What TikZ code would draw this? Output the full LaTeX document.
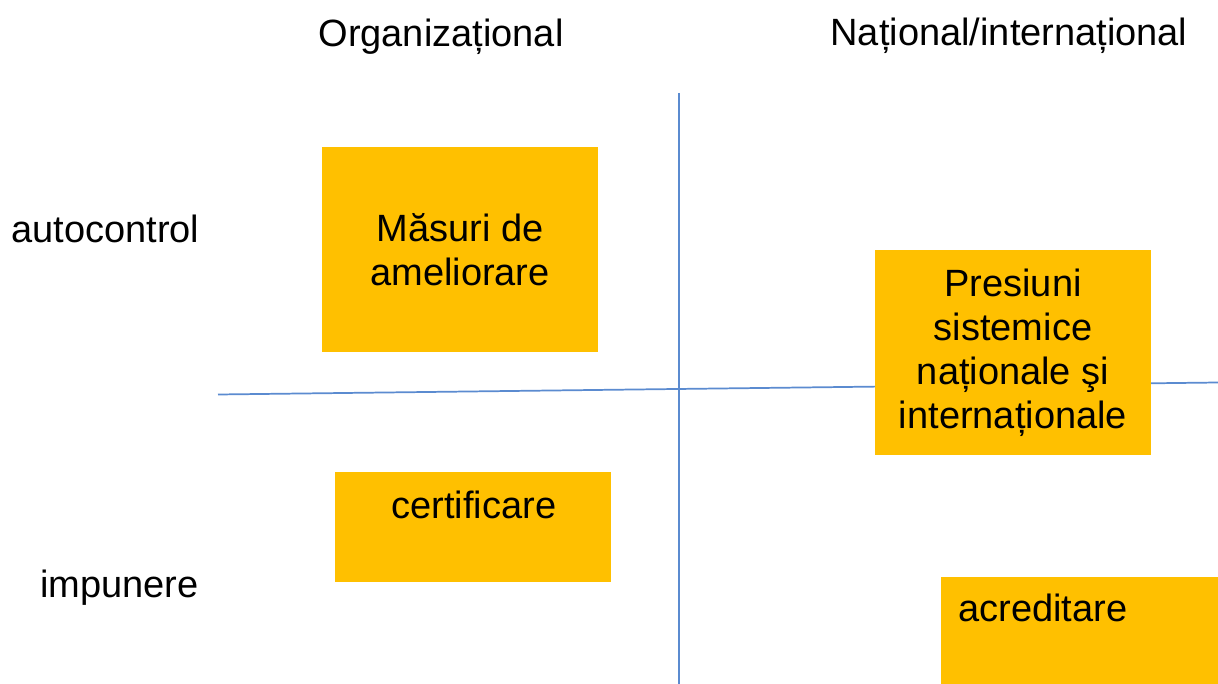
\documentclass[tikz,border=0pt]{standalone}
\usepackage{fontspec}
\setmainfont{Liberation Sans}
\definecolor{boxorange}{HTML}{FFC000}
\definecolor{axisblue}{HTML}{5B8BD0}
\begin{document}
\begin{tikzpicture}[x=0.75pt,y=-0.75pt,
  lbl/.style={font=\fontsize{28.5}{33}\selectfont, inner sep=0pt, anchor=base},
  boxnode/.style={fill=boxorange, draw=none, rectangle, inner sep=0pt, align=center,
    font=\fontsize{28.5}{33}\selectfont},
  axis/.style={draw=axisblue, line width=1.3pt}]
\useasboundingbox (0,0) rectangle (1218,684);
% axes
\coordinate (hl) at (218,394.5);
\coordinate (hr) at (1218,382.5);
\coordinate (vt) at (679,93);
\coordinate (vb) at (679,684);
\draw[axis] (hl) -- (hr);
\draw[axis] (vt) -- (vb);
% headings
\node[lbl] (org) at (441,47) {Organizațional};
\node[lbl] (nat) at (1009,46) {Național/internațional};
\node[lbl, anchor=base west] (auto) at (11,243) {autocontrol};
\node[lbl, anchor=base west] (imp) at (40,597) {impunere};
% boxes
\node[boxnode, minimum width=207pt, minimum height=153.75pt] (masuri) at (460,249.5)
  {Măsuri de\\ameliorare};
\node[boxnode, minimum width=207pt, minimum height=153.75pt] (presiuni) at (1013,352.5)
  {Presiuni\\sistemice\\naționale şi\\internaționale};
\node[boxnode, anchor=north west, minimum width=207pt, minimum height=82.5pt] (cert) at (335,472) {};
\node[lbl] (certt) at (474,518) {certificare};
\node[boxnode, anchor=north west, minimum width=207.75pt, minimum height=80.25pt] (acr) at (941,577) {};
\node[lbl, anchor=base west] (acrt) at (958,621.5) {acreditare};
\end{tikzpicture}
\end{document}
